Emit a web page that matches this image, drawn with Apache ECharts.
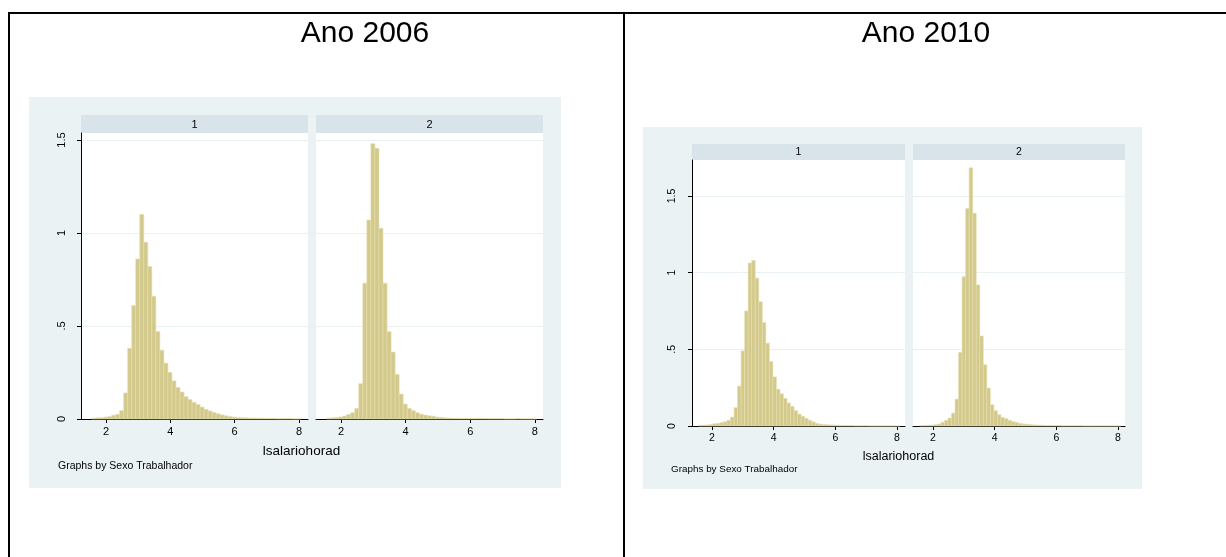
<!DOCTYPE html>
<html><head><meta charset="utf-8">
<script src="https://cdn.jsdelivr.net/npm/echarts@6/dist/echarts.min.js"></script>
<style>html,body{margin:0;padding:0;background:#fff}#c{width:1226px;height:557px}</style>
</head><body><div id="c"></div>
<script>
// ---------- data ----------
const titles = ['Ano 2006', 'Ano 2010'];
const panelLabels = ['1', '2'];
const xTickValues = [2, 4, 6, 8];
const yTickValues = [0, 0.5, 1, 1.5];
const yTickLabels = ['0', '.5', '1', '1.5'];
const xTitle = 'lsalariohorad';
const byNote = 'Graphs by Sexo Trabalhador';

const binStart2006 = 1.55, binWidth2006 = 0.125;
const binStart2010 = 1.57, binWidth2010 = 0.1145;

const dens2006Sex1 = [0.004,0.006,0.007,0.01,0.013,0.02,0.025,0.045,0.14,0.38,0.61,0.86,1.1,0.95,0.82,0.66,0.47,0.37,0.30,0.25,0.205,0.17,0.145,0.12,0.105,0.09,0.078,0.064,0.052,0.043,0.035,0.028,0.022,0.017,0.013,0.01,0.008,0.007,0.006,0.005,0.005,0.004,0.004,0.003,0.003,0.003,0.002,0.002,0.002,0.002,0.001,0.001];
const dens2006Sex2 = [0.004,0.006,0.008,0.011,0.016,0.024,0.034,0.057,0.19,0.73,1.07,1.48,1.455,1.025,0.73,0.47,0.36,0.24,0.134,0.08,0.057,0.045,0.034,0.026,0.021,0.017,0.015,0.01,0.008,0.006,0.005,0.004,0.004,0.003,0.003,0.003,0.003,0.004,0.004,0.003,0.002,0.002,0.002,0.002,0.001,0.001,0.001,0.002,0.001,0.001,0.001,0.001];
const dens2010Sex1 = [0.005,0.006,0.007,0.01,0.015,0.017,0.022,0.028,0.037,0.058,0.12,0.26,0.49,0.75,1.063,1.08,0.965,0.81,0.675,0.54,0.42,0.32,0.24,0.21,0.18,0.15,0.128,0.10,0.078,0.063,0.05,0.037,0.026,0.017,0.012,0.01,0.008,0.007,0.006,0.005,0.004,0.004,0.003,0.003,0.002,0.002,0.002,0.002,0.001,0.001,0.001,0.001,0.001,0.001,0.001,0.001,0.001];
const dens2010Sex2 = [0.003,0.004,0.005,0.006,0.008,0.013,0.024,0.037,0.052,0.084,0.175,0.48,0.974,1.418,1.684,1.388,0.92,0.587,0.40,0.247,0.139,0.10,0.074,0.056,0.048,0.037,0.028,0.024,0.017,0.013,0.011,0.009,0.007,0.006,0.005,0.004,0.004,0.003,0.003,0.003,0.002,0.002,0.002,0.002,0.002,0.002,0.001,0.001,0.001,0.001,0.001,0.001,0.001,0.001,0.001,0.001,0.001];

// ---------- styling / layout ----------
const FONT = '"Liberation Sans", Arial, sans-serif';
const BG = '#eaf2f3', STRIP = '#d8e4ea', GRIDC = '#e9f1f3';
const BAR_FILL = '#d2c98b', BAR_STROKE = '#e6dfb0';

function toBins(start, width, vals) {
  return vals.map((v, i) => [start + i * width, start + (i + 1) * width, v]);
}

const panels = [
  {left: 81,  top: 133, width: 227, height: 286, xmin: 1.223, xmax: 8.28,  ymax: 1.5376, yaxis: true,  data: toBins(binStart2006, binWidth2006, dens2006Sex1), fs: 11},
  {left: 316, top: 133, width: 227, height: 286, xmin: 1.227, xmax: 8.25,  ymax: 1.5376, yaxis: false, data: toBins(binStart2006, binWidth2006, dens2006Sex2), fs: 11},
  {left: 692, top: 160, width: 213, height: 266, xmin: 1.351, xmax: 8.26,  ymax: 1.735,  yaxis: true,  data: toBins(binStart2010, binWidth2010, dens2010Sex1), fs: 10.5},
  {left: 913, top: 160, width: 212, height: 266, xmin: 1.351, xmax: 8.227, ymax: 1.735,  yaxis: false, data: toBins(binStart2010, binWidth2010, dens2010Sex2), fs: 10.5}
];

function fmtY(v) {
  const i = yTickValues.findIndex(t => Math.abs(t - v) < 1e-6);
  return i >= 0 ? yTickLabels[i] : '';
}
function fmtX(v) {
  return xTickValues.some(t => Math.abs(t - v) < 1e-6) ? String(v) : '';
}

const grid = [], xAxis = [], yAxis = [], series = [];
panels.forEach((p, k) => {
  grid.push({left: p.left, top: p.top, width: p.width, height: p.height, show: true, backgroundColor: '#fff', borderWidth: 0, containLabel: false});
  xAxis.push({
    type: 'value', gridIndex: k, min: p.xmin, max: p.xmax,
    axisLine: {show: true, onZero: false, lineStyle: {color: '#000', width: 1}},
    axisTick: {show: true, length: 4, lineStyle: {color: '#000'}, customValues: xTickValues},
    axisLabel: {show: true, color: '#000', fontFamily: FONT, fontSize: p.fs, margin: 7, customValues: xTickValues, formatter: fmtX},
    splitLine: {show: false}
  });
  yAxis.push({
    type: 'value', gridIndex: k, min: 0, max: p.ymax,
    axisLine: {show: p.yaxis, lineStyle: {color: '#000', width: 1}},
    axisTick: {show: p.yaxis, length: 4, lineStyle: {color: '#000'}, customValues: yTickValues},
    axisLabel: {show: p.yaxis, rotate: 90, color: '#000', fontFamily: FONT, fontSize: p.fs, margin: 14, customValues: yTickValues, formatter: fmtY},
    splitLine: {show: true, lineStyle: {color: GRIDC, width: 1}}
  });
  series.push({
    type: 'custom', xAxisIndex: k, yAxisIndex: k, data: p.data,
    encode: {x: [0, 1], y: 2}, z: 1, silent: true,
    renderItem: function (params, api) {
      const a = api.coord([api.value(0), api.value(2)]);
      const b = api.coord([api.value(1), 0]);
      return {type: 'rect', shape: {x: a[0], y: a[1], width: b[0] - a[0], height: b[1] - a[1]},
        style: {fill: BAR_FILL, stroke: BAR_STROKE, lineWidth: 0.6}};
    }
  });
});

const graphics = [
  // outer table lines
  {type: 'rect', shape: {x: 0, y: 0, width: 1226, height: 557}, style: {fill: '#fff'}, z: -100},
  {type: 'line', shape: {x1: 8, y1: 13, x2: 1226, y2: 13}, style: {stroke: '#000', lineWidth: 2}, z: 50},
  {type: 'line', shape: {x1: 9, y1: 12, x2: 9, y2: 557}, style: {stroke: '#000', lineWidth: 2}, z: 50},
  {type: 'line', shape: {x1: 624, y1: 12, x2: 624, y2: 557}, style: {stroke: '#000', lineWidth: 2}, z: 50},
  // titles
  {type: 'text', x: 365, y: 34, style: {text: titles[0], fontFamily: FONT, fontSize: 30, fill: '#000', align: 'center', verticalAlign: 'middle'}, z: 50},
  {type: 'text', x: 926, y: 34, style: {text: titles[1], fontFamily: FONT, fontSize: 30, fill: '#000', align: 'center', verticalAlign: 'middle'}, z: 50},
  // graph backgrounds
  {type: 'rect', shape: {x: 29, y: 97, width: 532, height: 391}, style: {fill: BG}, z: -50},
  {type: 'rect', shape: {x: 643, y: 127, width: 499, height: 362}, style: {fill: BG}, z: -50},
  // header strips
  {type: 'rect', shape: {x: 81, y: 115, width: 227, height: 18}, style: {fill: STRIP}, z: -40},
  {type: 'rect', shape: {x: 316, y: 115, width: 227, height: 18}, style: {fill: STRIP}, z: -40},
  {type: 'rect', shape: {x: 692, y: 144, width: 213, height: 16}, style: {fill: STRIP}, z: -40},
  {type: 'rect', shape: {x: 913, y: 144, width: 212, height: 16}, style: {fill: STRIP}, z: -40},
  {type: 'text', x: 194.5, y: 124.5, style: {text: panelLabels[0], fontFamily: FONT, fontSize: 11, fill: '#000', align: 'center', verticalAlign: 'middle'}, z: 50},
  {type: 'text', x: 429.5, y: 124.5, style: {text: panelLabels[1], fontFamily: FONT, fontSize: 11, fill: '#000', align: 'center', verticalAlign: 'middle'}, z: 50},
  {type: 'text', x: 798.5, y: 152.5, style: {text: panelLabels[0], fontFamily: FONT, fontSize: 10.5, fill: '#000', align: 'center', verticalAlign: 'middle'}, z: 50},
  {type: 'text', x: 1019, y: 152.5, style: {text: panelLabels[1], fontFamily: FONT, fontSize: 10.5, fill: '#000', align: 'center', verticalAlign: 'middle'}, z: 50},
  // x titles
  {type: 'text', x: 301.5, y: 451, style: {text: xTitle, fontFamily: FONT, fontSize: 13.5, fill: '#000', align: 'center', verticalAlign: 'middle'}, z: 50},
  {type: 'text', x: 898.5, y: 456.5, style: {text: xTitle, fontFamily: FONT, fontSize: 12.5, fill: '#000', align: 'center', verticalAlign: 'middle'}, z: 50},
  // notes
  {type: 'text', x: 58, y: 466.5, style: {text: byNote, fontFamily: FONT, fontSize: 10.5, fill: '#000', align: 'left', verticalAlign: 'middle'}, z: 50},
  {type: 'text', x: 671, y: 469.5, style: {text: byNote, fontFamily: FONT, fontSize: 9.9, fill: '#000', align: 'left', verticalAlign: 'middle'}, z: 50}
];

const chart = echarts.init(document.getElementById('c'), null, {renderer: 'canvas'});
chart.setOption({
  animation: false,
  backgroundColor: '#fff',
  grid: grid, xAxis: xAxis, yAxis: yAxis, series: series,
  graphic: {elements: graphics}
});
</script>
</body></html>
